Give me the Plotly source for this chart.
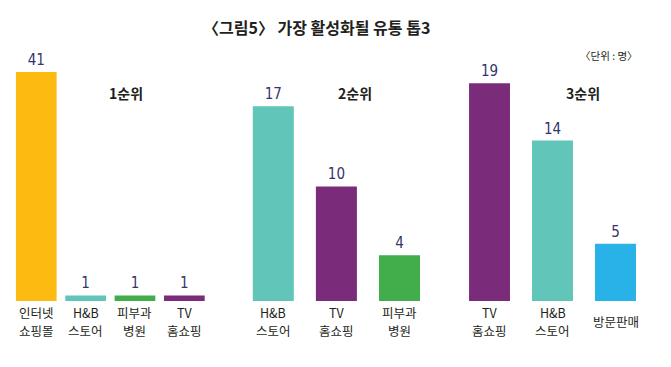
import plotly.graph_objects as go

# ---- data ----
title_text = "〈그림5〉 가장 활성화될 유통 톱3"
unit_text = "〈단위 : 명〉"
group_names = ["1순위", "2순위", "3순위"]

g1_labels = ["인터넷<br>쇼핑몰", "H&B<br>스토어", "피부과<br>병원", "TV<br>홈쇼핑"]
g1_values = [41, 1, 1, 1]

g2_labels = ["H&B<br>스토어", "TV<br>홈쇼핑", "피부과<br>병원"]
g2_values = [17, 10, 4]

g3_labels = ["TV<br>홈쇼핑", "H&B<br>스토어", "방문판매"]
g3_values = [19, 14, 5]

# ---- styles ----
YELLOW = "#FDBB12"
TEAL = "#61C5B9"
GREEN = "#42AE4B"
PURPLE = "#7A2C7B"
BLUE = "#29B2E7"
g1_colors = [YELLOW, TEAL, GREEN, PURPLE]
g2_colors = [TEAL, PURPLE, GREEN]
g3_colors = [PURPLE, TEAL, BLUE]

KR = "Noto Sans CJK KR, Noto Sans, sans-serif"
NUM = "Liberation Sans Narrow, DejaVu Sans Condensed, Roboto, sans-serif"
NUM_COLOR = "#35356a"
LABEL_COLOR = "#231f20"

W, H = 671, 367
y_dom = [66 / H, (H - 40) / H]

fig = go.Figure()

def add_group(labels, values, colors, xa, ya, width):
    fig.add_trace(go.Bar(
        x=labels, y=values, xaxis=xa, yaxis=ya,
        marker=dict(color=colors, line=dict(width=0)),
        width=width,
        text=values, textposition="outside", cliponaxis=False,
        textfont=dict(family=NUM, size=15, color=NUM_COLOR),
        hoverinfo="x+y", showlegend=False,
    ))

add_group(g1_labels, g1_values, g1_colors, "x", "y", 0.825)
add_group(g2_labels, g2_values, g2_colors, "x2", "y2", 0.65)
add_group(g3_labels, g3_values, g3_colors, "x3", "y2", 0.65)

hidden = dict(showgrid=False, zeroline=False, showline=False,
              showticklabels=False, ticks="", fixedrange=True)

fig.update_layout(
    width=W, height=H,
    margin=dict(l=0, r=0, t=0, b=0),
    paper_bgcolor="white", plot_bgcolor="white",
    xaxis=dict(domain=[11.6 / W, 209 / W], anchor="y", **hidden),
    xaxis2=dict(domain=[241.75 / W, 431.05 / W], anchor="y2", **hidden),
    xaxis3=dict(domain=[458 / W, 647 / W], anchor="y2", **hidden),
    yaxis=dict(domain=y_dom, range=[0, 46.73], anchor="x", **hidden),
    yaxis2=dict(domain=y_dom, range=[0, 22.78], anchor="x2", **hidden),
    font=dict(family=KR, color=LABEL_COLOR),
)

annotations = []
# category labels under bars (each line placed separately)
for labels, xa in [(g1_labels, "x"), (g2_labels, "x2"), (g3_labels, "x3")]:
    for lab in labels:
        lines = lab.split("<br>")
        if len(lines) == 1:
            ys = [321.5]
        else:
            ys = [312, 330.5]
        for line, yp in zip(lines, ys):
            annotations.append(dict(
                x=lab, xref=xa, y=(H - yp) / H, yref="paper",
                text=line, showarrow=False, xanchor="center", yanchor="middle",
                borderpad=0,
                font=dict(family=KR, size=12.5, color=LABEL_COLOR),
            ))

# group names
for name, xc in zip(group_names, [125.7, 355, 583]):
    annotations.append(dict(
        x=xc / W, xref="paper", y=(H - 93) / H, yref="paper",
        text=f"<b>{name}</b>", showarrow=False,
        xanchor="center", yanchor="middle",
        font=dict(family=KR, size=14, color=LABEL_COLOR),
    ))

# title
annotations.append(dict(
    x=316 / W, xref="paper", y=(H - 27) / H, yref="paper",
    text=f"<b>{title_text}</b>", showarrow=False,
    xanchor="center", yanchor="middle",
    font=dict(family=KR, size=16, color=LABEL_COLOR),
))
# unit
annotations.append(dict(
    x=640 / W, xref="paper", y=(H - 55) / H, yref="paper",
    text=unit_text, showarrow=False,
    xanchor="right", yanchor="middle",
    font=dict(family=KR, size=10.5, color=LABEL_COLOR),
))

fig.update_layout(annotations=annotations)

fig.write_html(
    "out.html",
    config={"displayModeBar": False},
    post_script="document.body.style.margin='0';document.body.style.overflow='hidden';",
)
